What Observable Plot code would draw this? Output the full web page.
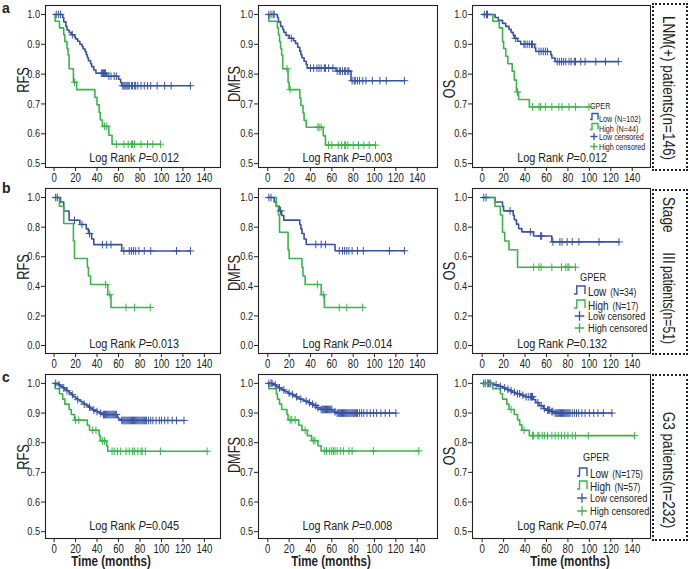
<!DOCTYPE html>
<html><head><meta charset="utf-8">
<script src="https://cdn.jsdelivr.net/npm/d3@7"></script>
<script src="https://cdn.jsdelivr.net/npm/@observablehq/plot@0.6"></script>
<style>
body{margin:0;background:#fff;}
#fig{position:relative;width:688px;height:569px;overflow:hidden;background:#fff;}
#fig svg{position:absolute;}
.rowbox{position:absolute;border:2px dotted #222;box-sizing:border-box;}
</style></head>
<body><div id="fig"></div>
<script>
// ---------------- DATA ----------------
const xTickValues = [0, 20, 40, 60, 80, 100, 120, 140];
const yTicksAC = [0.5, 0.6, 0.7, 0.8, 0.9, 1.0];
const yTicksB = [0.0, 0.2, 0.4, 0.6, 0.8, 1.0];
const rowNames = ["LNM(+) patients(n=146)", "Stage III patients(n=51)", "G3 patients(n=232)"];
const endpoints = ["RFS", "DMFS", "OS"];
const pValues = [["0.012", "0.003", "0.012"], ["0.013", "0.014", "0.132"], ["0.045", "0.008", "0.074"]];
const legendN = [["102", "44"], ["34", "17"], ["175", "57"]];

// Row a (LNM+)
const aRfsLowT = [0, 8, 9, 11, 12, 14, 16, 19, 20, 22, 24, 26, 27, 29, 30, 31, 32, 34, 35, 37, 39, 49, 60, 62, 63];
const aRfsLowS = [1, 0.99, 0.975, 0.96, 0.948, 0.94, 0.932, 0.925, 0.918, 0.91, 0.9, 0.893, 0.884, 0.875, 0.865, 0.855, 0.845, 0.835, 0.825, 0.814, 0.803, 0.793, 0.783, 0.772, 0.761];
const aRfsLowC = [2, 4, 6, 17, 44, 45, 46, 47, 48, 51, 53, 56, 58, 64, 65, 66, 67, 68, 69, 70, 72, 73, 75, 76, 78, 81, 84, 87, 90, 96, 103, 109, 127];
const aRfsHighT = [0, 1, 5, 9, 10, 12, 13, 14, 18, 21, 38, 40, 42, 43, 45, 51, 54];
const aRfsHighS = [1, 0.977, 0.955, 0.932, 0.909, 0.886, 0.864, 0.818, 0.773, 0.748, 0.722, 0.697, 0.671, 0.646, 0.625, 0.595, 0.565];
const aRfsHighC = [19, 47, 49, 58, 65, 69, 72, 73, 75, 81, 87, 92, 99];

const aDmfsLowT = [0, 9, 10, 12, 14, 15, 17, 20, 24, 26, 28, 30, 31, 32, 34, 36, 37, 64, 78];
const aDmfsLowS = [1, 0.99, 0.975, 0.96, 0.95, 0.94, 0.93, 0.92, 0.912, 0.903, 0.89, 0.877, 0.865, 0.855, 0.843, 0.832, 0.82, 0.81, 0.778];
const aDmfsLowC = [1, 3, 5, 6, 22, 40, 43, 46, 48, 50, 53, 54, 57, 61, 65, 67, 68, 70, 72, 73, 75, 76, 79, 81, 82, 84, 86, 89, 92, 98, 105, 111, 128];
const aDmfsHighT = [0, 1, 9, 10, 11, 12, 13, 14, 19, 20, 30, 31, 33, 34, 36, 52, 54];
const aDmfsHighS = [1, 0.977, 0.955, 0.932, 0.909, 0.886, 0.864, 0.818, 0.773, 0.748, 0.72, 0.695, 0.67, 0.645, 0.622, 0.593, 0.562];
const aDmfsHighC = [18, 21, 47, 48, 50, 57, 60, 66, 69, 72, 73, 75, 80, 85, 90, 95, 101];

const aOsLowT = [0, 12, 15, 19, 22, 25, 27, 29, 30, 33, 36, 49, 50, 64, 65, 68];
const aOsLowS = [1, 0.99, 0.98, 0.97, 0.96, 0.95, 0.94, 0.93, 0.92, 0.91, 0.9, 0.888, 0.876, 0.865, 0.854, 0.842];
const aOsLowC = [2, 4, 5, 31, 39, 40, 42, 44, 46, 47, 53, 55, 57, 59, 61, 70, 72, 74, 76, 78, 81, 83, 86, 87, 92, 96, 106, 115, 127];
const aOsHighT = [0, 10, 16, 19, 20, 22, 24, 28, 30, 32, 34, 44];
const aOsHighS = [1, 0.977, 0.955, 0.909, 0.886, 0.86, 0.835, 0.81, 0.78, 0.74, 0.715, 0.69];
const aOsHighC = [33, 47, 53, 54.5, 59, 65, 71.5, 74.5, 81, 87, 99.6];

// Row b (Stage III)
const bRfsLowT = [0, 6, 9, 14, 24, 30, 32, 35, 37, 63];
const bRfsLowS = [1, 0.97, 0.909, 0.846, 0.818, 0.788, 0.757, 0.72, 0.682, 0.639];
const bRfsLowC = [1.5, 3, 19, 26, 33, 45, 49, 53, 65, 70, 72, 74, 76, 79, 84, 90, 114, 127];
const bRfsHighT = [0, 5, 9, 18, 19, 31, 32, 34, 50, 53];
const bRfsHighS = [1, 0.941, 0.824, 0.706, 0.588, 0.529, 0.47, 0.412, 0.343, 0.257];
const bRfsHighC = [48, 52, 67, 75, 89.6];

const bDmfsLowT = [0, 6, 8, 11, 13, 15, 30, 31, 32, 34, 36, 63];
const bDmfsLowS = [1, 0.97, 0.94, 0.91, 0.879, 0.847, 0.818, 0.788, 0.757, 0.72, 0.683, 0.64];
const bDmfsLowC = [1, 3, 12, 45, 50, 54, 67, 70, 72, 74, 76, 79, 84, 89.5, 114, 128];
const bDmfsHighT = [0, 8, 10, 11, 19, 20, 32, 33, 35, 50, 53];
const bDmfsHighS = [1, 0.941, 0.882, 0.765, 0.647, 0.588, 0.529, 0.47, 0.412, 0.343, 0.257];
const bDmfsHighC = [46.5, 52, 67, 74, 88.8];

const bOsLowT = [0, 12, 19, 20, 29, 30, 32, 34, 37, 48, 65];
const bOsLowS = [1, 0.97, 0.94, 0.91, 0.88, 0.85, 0.82, 0.79, 0.768, 0.74, 0.70];
const bOsLowC = [1.5, 3.7, 26, 45, 54.5, 55.5, 66, 72.5, 74.5, 79.3, 84, 90.2, 109, 127.6];
const bOsHighT = [0, 12, 17, 19, 21, 25, 33];
const bOsHighS = [1, 0.941, 0.882, 0.765, 0.706, 0.647, 0.529];
const bOsHighC = [48, 53, 55, 65, 74, 78, 80, 81, 87];

// Row c (G3)
const cRfsLowT = [0, 4, 6, 8, 10, 12, 14, 16, 18, 20, 22, 24, 26, 28, 30, 32, 34, 36, 39, 42, 45, 59, 60, 62];
const cRfsLowS = [1, 0.995, 0.99, 0.985, 0.98, 0.975, 0.968, 0.962, 0.955, 0.95, 0.945, 0.94, 0.935, 0.93, 0.925, 0.92, 0.915, 0.91, 0.905, 0.9, 0.895, 0.886, 0.88, 0.875];
const cRfsLowC = [1.5, 4.7, 9, 12, 17, 22, 28, 33, 37, 40, 43.5, 46, 47, 48, 49, 50, 51, 52, 53, 54, 55, 56, 57, 58, 63, 64, 65, 66, 67, 68, 69, 70, 71, 72, 73, 74, 75, 76, 77, 78, 79, 80, 81, 82, 83, 84, 85, 86, 88, 90, 92, 95, 98, 100, 103, 106, 110, 114, 121];
const cRfsHighT = [0, 1, 5, 8, 10, 14, 16, 19, 31, 33, 42, 43, 49, 50];
const cRfsHighS = [1, 0.982, 0.965, 0.947, 0.93, 0.912, 0.895, 0.876, 0.859, 0.842, 0.824, 0.806, 0.789, 0.771];
const cRfsHighC = [20, 23, 36, 39, 45, 47, 54, 56, 59, 62, 67, 70, 73, 75, 78, 81, 82, 85, 99, 142.5];

const cDmfsLowT = [0, 5, 8, 10, 13, 16, 19, 21, 24, 26, 28, 30, 33, 35, 38, 40, 43, 46, 49, 61, 62, 64];
const cDmfsLowS = [1, 0.995, 0.99, 0.985, 0.978, 0.972, 0.967, 0.963, 0.959, 0.955, 0.951, 0.947, 0.943, 0.94, 0.935, 0.93, 0.925, 0.918, 0.912, 0.908, 0.904, 0.90];
const cDmfsLowC = [1, 3, 4, 7, 11, 15, 20, 23, 27, 31, 36, 39, 42, 45, 47, 50, 51, 52, 53, 54, 55, 56, 57, 58, 59, 60, 63, 65, 66, 67, 68, 69, 70, 71, 72, 73, 74, 75, 76, 77, 78, 79, 80, 81, 82, 83, 84, 86, 88, 90, 93, 96, 99, 102, 106, 110, 114, 120];
const cDmfsHighT = [0, 1, 8, 9, 11, 13, 18, 19, 29, 32, 37, 41, 47, 50];
const cDmfsHighS = [1, 0.982, 0.965, 0.947, 0.93, 0.912, 0.895, 0.877, 0.859, 0.842, 0.824, 0.807, 0.79, 0.772];
const cDmfsHighC = [21, 22.5, 25.6, 35, 42.6, 44.2, 53, 55, 58, 60, 61.5, 63, 65, 68, 71, 76, 79, 99, 141.5];

const cOsLowT = [0, 11, 15, 19, 22, 25, 28, 31, 36, 40, 48, 50, 53, 57, 59, 64, 67];
const cOsLowS = [1, 0.995, 0.99, 0.985, 0.98, 0.975, 0.97, 0.965, 0.96, 0.955, 0.945, 0.935, 0.925, 0.915, 0.91, 0.905, 0.90];
const cOsLowC = [1.5, 3, 5, 6, 8, 13, 17, 21, 24, 27, 30, 33, 35, 38, 41, 43, 45, 46, 47, 52, 55, 58, 61, 62, 63, 65, 66, 68, 69, 70, 71, 72, 73, 74, 75, 76, 77, 78, 79, 80, 81, 82, 84, 86, 88, 90, 93, 96, 100, 104, 108, 113, 121];
const cOsHighT = [0, 10, 17, 19, 23, 25, 30, 33, 35, 37, 44];
const cOsHighS = [1, 0.982, 0.965, 0.947, 0.93, 0.912, 0.895, 0.877, 0.86, 0.842, 0.824];
const cOsHighC = [3, 5, 7, 27, 39, 47, 48, 52, 53, 56, 58, 61, 65, 68, 71, 74, 77, 80, 84, 87, 99, 142];

// ---------------- LAYOUT ----------------
const BLUE = "#3953a4", GREEN = "#39b54a", INK = "#222";
const FONT = '"Liberation Sans",Arial,sans-serif';
const SQUEEZE = 0.8; // narrow type of the original figure
const cols = [
  {left: 45, w: 175, dom: [-8, 155]},
  {left: 258, w: 179, dom: [-8.7, 159]},
  {left: 472, w: 178, dom: [-9, 157]}
];
const rows = [
  {top: 5, h: 162, dom: [0.487, 1.03], ticks: yTicksAC, logY: 0.52},
  {top: 188, h: 165, dom: [-0.054, 1.061], ticks: yTicksB, logY: 0.015},
  {top: 374, h: 164, dom: [0.477, 1.03], ticks: yTicksAC, logY: 0.52}
];
const curves = [
  [[aRfsLowT, aRfsLowS, aRfsLowC, aRfsHighT, aRfsHighS, aRfsHighC],
   [aDmfsLowT, aDmfsLowS, aDmfsLowC, aDmfsHighT, aDmfsHighS, aDmfsHighC],
   [aOsLowT, aOsLowS, aOsLowC, aOsHighT, aOsHighS, aOsHighC]],
  [[bRfsLowT, bRfsLowS, bRfsLowC, bRfsHighT, bRfsHighS, bRfsHighC],
   [bDmfsLowT, bDmfsLowS, bDmfsLowC, bDmfsHighT, bDmfsHighS, bDmfsHighC],
   [bOsLowT, bOsLowS, bOsLowC, bOsHighT, bOsHighS, bOsHighC]],
  [[cRfsLowT, cRfsLowS, cRfsLowC, cRfsHighT, cRfsHighS, cRfsHighC],
   [cDmfsLowT, cDmfsLowS, cDmfsLowC, cDmfsHighT, cDmfsHighS, cDmfsHighC],
   [cOsLowT, cOsLowS, cOsLowC, cOsHighT, cOsHighS, cOsHighC]]
];

function survAt(T, S, t) { let s = S[0]; for (let i = 0; i < T.length; i++) if (T[i] <= t) s = S[i]; return s; }
function stepPts(T, S, C) {
  const end = Math.max(T[T.length - 1], ...C);
  const pts = T.map((t, i) => ({t, s: S[i]}));
  pts.push({t: end, s: S[S.length - 1]});
  return pts;
}
function censPts(T, S, C) { return C.map(t => ({t, s: survAt(T, S, t)})); }

// squeeze text horizontally around its anchor (emulates the narrow face of the original)
function condense(root, k) {
  root.querySelectorAll("text:not(.keep)").forEach(t => {
    const xa = t.getAttribute("x"), ya = t.getAttribute("y");
    const isNum = v => v != null && v !== "" && !isNaN(+v);
    let x = 0, y = 0;
    if (isNum(xa)) { x = +xa; t.setAttribute("x", 0); }
    if (isNum(ya)) { y = +ya; t.setAttribute("y", 0); }
    const tr = t.getAttribute("transform") || "";
    t.setAttribute("transform", `${tr} translate(${x},${y}) scale(${k},1)`);
  });
}

const fig = document.getElementById("fig");
const ML = 40, MR = 4, MT = 4, MB = 24;
const scales = [];

rows.forEach((row, ri) => {
  scales.push([]);
  cols.forEach((col, ci) => {
    const [lT, lS, lC, hT, hS, hC] = curves[ri][ci];
    const p = Plot.plot({
      width: ML + col.w + MR, height: MT + row.h + MB,
      marginLeft: ML, marginRight: MR, marginTop: MT, marginBottom: MB,
      style: {background: "transparent", fontFamily: FONT, fontSize: "12px", color: INK, overflow: "visible"},
      x: {domain: col.dom, axis: null},
      y: {domain: row.dom, axis: null},
      marks: [
        Plot.axisX(xTickValues, {tickSize: 4, tickPadding: 2, fontSize: 12, label: null}),
        Plot.axisY(row.ticks, {tickSize: 4, tickPadding: 1.5, fontSize: 11.5, label: null, tickFormat: d3.format(".1f")}),
        Plot.line(stepPts(lT, lS, lC), {x: "t", y: "s", curve: "step-after", stroke: BLUE, strokeWidth: 1.6}),
        Plot.line(stepPts(hT, hS, hC), {x: "t", y: "s", curve: "step-after", stroke: GREEN, strokeWidth: 1.6}),
        Plot.dot(censPts(lT, lS, lC), {x: "t", y: "s", symbol: "plus", r: 2.6, stroke: BLUE, strokeWidth: 1}),
        Plot.dot(censPts(hT, hS, hC), {x: "t", y: "s", symbol: "plus", r: 2.6, stroke: GREEN, strokeWidth: 1}),
        Plot.frame({stroke: INK, strokeWidth: 1.1})
      ]
    });
    condense(p, SQUEEZE);
    const ox = col.left - ML, oy = row.top - MT;
    p.style.left = ox + "px"; p.style.top = oy + "px";
    fig.appendChild(p);
    scales[ri].push({sx: p.scale("x"), sy: p.scale("y"), ox, oy});
  });
});

// row label boxes
const boxes = [[652, 3, 36, 168], [652, 189, 36, 166], [652, 374, 36, 167]];
boxes.forEach(([x, y, w, h]) => {
  const d = document.createElement("div");
  d.className = "rowbox";
  Object.assign(d.style, {left: x + "px", top: y + "px", width: w + "px", height: h + "px"});
  fig.appendChild(d);
});

// ---------------- ANNOTATIONS ----------------
const ov = d3.select(fig).append("svg").attr("width", 688).attr("height", 569)
  .style("left", "0px").style("top", "0px").style("font-family", FONT).style("overflow", "visible");

// panel letters
[["a", 13], ["b", 193], ["c", 382]].forEach(([t, y]) =>
  ov.append("text").attr("class", "keep").attr("x", 2).attr("y", y).text(t)
    .style("font-weight", "bold").style("font-size", "14px").attr("fill", INK));

// y labels and log-rank notes
const yLabX = [23, 234, 449];
const yLabY = [[80, 84, 89], [267, 273, 271], [457, 455, 456]];
rows.forEach((row, ri) => cols.forEach((col, ci) => {
  ov.append("text").attr("transform", `translate(${yLabX[ci]},${yLabY[ri][ci]}) rotate(-90)`)
    .attr("text-anchor", "middle").attr("dy", "0.36em").style("font-size", "16px").attr("fill", INK).text(endpoints[ci]);
  const s = scales[ri][ci];
  const t = ov.append("text").attr("x", s.ox + s.sx.apply(75)).attr("y", s.oy + s.sy.apply(row.logY))
    .attr("text-anchor", "middle").attr("dy", "0.36em").style("font-size", "13.5px").attr("fill", INK);
  t.append("tspan").text("Log Rank ");
  t.append("tspan").style("font-style", "italic").text("P");
  t.append("tspan").text("=" + pValues[ri][ci]);
}));

// x axis titles
[111, 331, 570].forEach(x => ov.append("text").attr("x", x).attr("y", 561).attr("text-anchor", "middle").attr("dy", "0.36em")
  .style("font-size", "14.5px").style("font-weight", "bold").attr("fill", INK).text("Time (months)"));

// row labels (rotated, reading downwards)
const rowLabelParts = [
  [[88, "middle", rowNames[0], 0]],
  [[197, "start", "Stage", 0], [258, "middle", "III", 0], [266, "start", "patients(n=51)", 78]],
  [[470, "middle", rowNames[2], 0]]
];
rowLabelParts.forEach(parts => parts.forEach(([y, anchor, t, len]) => {
  const el = ov.append("text").attr("transform", `translate(669,${y}) rotate(90)`).attr("text-anchor", anchor)
    .attr("dy", "0.36em").style("font-size", "17px").attr("fill", INK).text(t);
  if (len) el.attr("class", "keep").attr("textLength", len).attr("lengthAdjust", "spacingAndGlyphs");
}));

// legends
const legends = [
  {gx: 590, gy: 106, ys: [116.5, 126.5, 136.5, 146.5], ix: 590, tx: 599, f0: 9, f1: 9, f2: 9, fc: 9, iw: 8, ih: 6, gap: 3},
  {gx: 580, gy: 277, ys: [290, 304, 316, 328], ix: 574, tx: 588, f0: 11.5, f1: 12.5, f2: 10.5, fc: 11.5, iw: 11, ih: 8, gap: 5},
  {gx: 583, gy: 457, ys: [472, 485, 498, 511], ix: 577, tx: 590, f0: 11.5, f1: 12.5, f2: 10.5, fc: 11.5, iw: 10, ih: 8, gap: 5}
];
legends.forEach((L, ri) => {
  ov.append("text").attr("x", L.gx).attr("y", L.gy).attr("dy", "0.36em").style("font-size", L.f0 + "px").attr("fill", INK).text("GPER");
  const groups = [["Low", BLUE], ["High", GREEN]];
  groups.forEach(([g, c], k) => {
    const y = L.ys[k];
    const x0 = L.ix, w = L.iw, h = L.ih;
    ov.append("path").attr("d", `M${x0},${y + h / 2}H${x0 + w * 0.25}V${y - h / 2}H${x0 + w}V${y + h / 2}`)
      .attr("fill", "none").attr("stroke", c).attr("stroke-width", 1.4);
    const t = ov.append("text").attr("x", L.tx).attr("y", y).attr("dy", "0.36em").attr("fill", INK);
    t.append("tspan").style("font-size", L.f1 + "px").text(g);
    t.append("tspan").style("font-size", L.f2 + "px").attr("dx", L.gap).text("(N=" + legendN[ri][k] + ")");
  });
  groups.forEach(([g, c], k) => {
    const y = L.ys[k + 2], cx = L.ix + L.iw / 2, r = L.ih * 0.6;
    ov.append("path").attr("d", `M${cx - r},${y}H${cx + r}M${cx},${y - r}V${y + r}`).attr("stroke", c).attr("stroke-width", 1.3);
    ov.append("text").attr("x", L.tx).attr("y", y).attr("dy", "0.36em").style("font-size", L.fc + "px").attr("fill", INK).text(g + " censored");
  });
});
condense(ov.node(), SQUEEZE);
</script>
</body></html>
